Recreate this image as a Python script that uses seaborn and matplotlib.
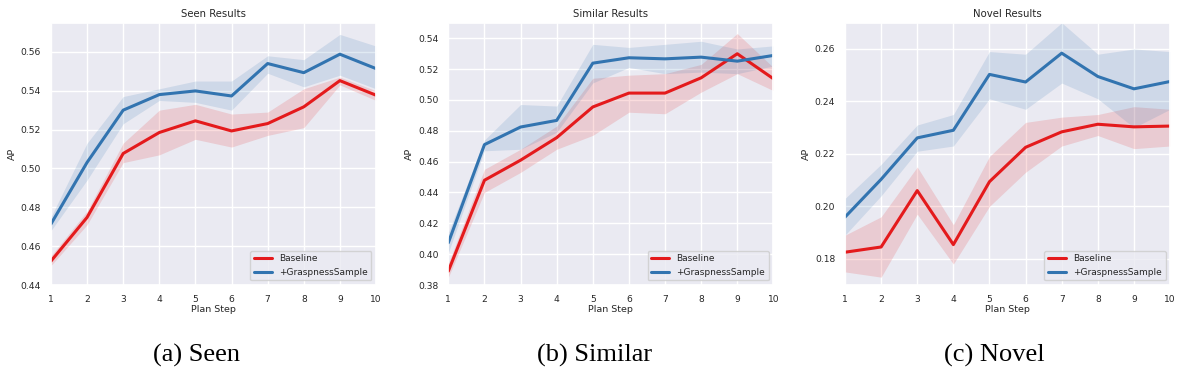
import matplotlib
matplotlib.use("Agg")
import matplotlib.pyplot as plt
import seaborn as sns
import pandas as pd

steps = list(range(1, 11))

# Seen
seen_base = [0.4523, 0.4748, 0.5077, 0.5185, 0.5245, 0.5193, 0.5231, 0.5317, 0.5452, 0.5377]
seen_base_lo = [0.450, 0.471, 0.503, 0.507, 0.515, 0.511, 0.517, 0.521, 0.543, 0.535]
seen_base_hi = [0.455, 0.478, 0.513, 0.530, 0.533, 0.528, 0.529, 0.541, 0.547, 0.540]
seen_gs = [0.4714, 0.5031, 0.5300, 0.5380, 0.5399, 0.5373, 0.5540, 0.5493, 0.5588, 0.5514]
seen_gs_lo = [0.468, 0.494, 0.523, 0.535, 0.534, 0.530, 0.549, 0.542, 0.548, 0.541]
seen_gs_hi = [0.475, 0.513, 0.537, 0.541, 0.545, 0.545, 0.558, 0.556, 0.569, 0.563]

# Similar
sim_base = [0.389, 0.4479, 0.4609, 0.4755, 0.4954, 0.5044, 0.5044, 0.5143, 0.5299, 0.5137]
sim_base_lo = [0.385, 0.440, 0.453, 0.468, 0.477, 0.492, 0.491, 0.505, 0.517, 0.506]
sim_base_hi = [0.394, 0.455, 0.468, 0.483, 0.514, 0.516, 0.517, 0.523, 0.543, 0.521]
sim_gs = [0.4074, 0.4710, 0.4824, 0.4867, 0.5238, 0.5273, 0.5266, 0.5277, 0.5251, 0.5288]
sim_gs_lo = [0.401, 0.467, 0.468, 0.479, 0.511, 0.521, 0.517, 0.518, 0.517, 0.522]
sim_gs_hi = [0.414, 0.474, 0.497, 0.496, 0.536, 0.534, 0.536, 0.538, 0.533, 0.535]

# Novel
nov_base = [0.1825, 0.1845, 0.2060, 0.1854, 0.2094, 0.2225, 0.2284, 0.2313, 0.2303, 0.2306]
nov_base_lo = [0.175, 0.173, 0.197, 0.178, 0.200, 0.213, 0.223, 0.227, 0.222, 0.223]
nov_base_hi = [0.189, 0.196, 0.215, 0.193, 0.219, 0.232, 0.234, 0.235, 0.238, 0.237]
nov_gs = [0.1959, 0.2103, 0.2261, 0.2290, 0.2503, 0.2474, 0.2584, 0.2495, 0.2448, 0.2476]
nov_gs_lo = [0.189, 0.204, 0.221, 0.223, 0.241, 0.237, 0.247, 0.241, 0.230, 0.237]
nov_gs_hi = [0.203, 0.216, 0.231, 0.235, 0.259, 0.258, 0.270, 0.258, 0.260, 0.259]

titles = ['Seen Results', 'Similar Results', 'Novel Results']
captions = ['(a) Seen', '(b) Similar', '(c) Novel']
labels = ['Baseline', '+GraspnessSample']
colors = ['#e41a1c', '#3274b0']

panels = [
    (seen_base, seen_base_lo, seen_base_hi, seen_gs, seen_gs_lo, seen_gs_hi, (0.44, 0.575)),
    (sim_base, sim_base_lo, sim_base_hi, sim_gs, sim_gs_lo, sim_gs_hi, (0.38, 0.55)),
    (nov_base, nov_base_lo, nov_base_hi, nov_gs, nov_gs_lo, nov_gs_hi, (0.17, 0.27)),
]

sns.set_theme(style='darkgrid')
plt.rcParams['font.family'] = ['DejaVu Sans']

fig = plt.figure(figsize=(11.82, 3.79), dpi=100)
lefts = [0.0431, 0.3793, 0.7149]
width = 0.275
caption_x = [0.166, 0.503, 0.841]

for i, (b, blo, bhi, g, glo, ghi, ylim) in enumerate(panels):
    ax = fig.add_axes([lefts[i], 0.248, width, 0.692])
    df = pd.DataFrame({
        'Plan Step': steps * 2,
        'AP': b + g,
        'Method': [labels[0]] * 10 + [labels[1]] * 10,
    })
    sns.lineplot(data=df, x='Plan Step', y='AP', hue='Method', palette=colors,
                 linewidth=2.2, ax=ax)
    ax.fill_between(steps, blo, bhi, color=colors[0], alpha=0.15, linewidth=0)
    ax.fill_between(steps, glo, ghi, color=colors[1], alpha=0.15, linewidth=0)
    ax.set_xlim(1, 10)
    ax.set_ylim(*ylim)
    ax.set_xticks(steps)
    ax.tick_params(labelsize=6.6, pad=1)
    ax.set_xlabel('Plan Step', fontsize=6.8, labelpad=1)
    ax.set_ylabel('AP', fontsize=6.8, labelpad=3)
    ax.set_title(titles[i], fontsize=7.3, pad=4)
    ax.legend(loc='lower right', fontsize=6.5, title=None, handlelength=2.0)
    fig.text(caption_x[i], 0.061, captions[i], ha='center', va='center',
             fontsize=19, color='black', family=['Liberation Serif'])

fig.savefig('out.png', dpi=100, facecolor='white')
